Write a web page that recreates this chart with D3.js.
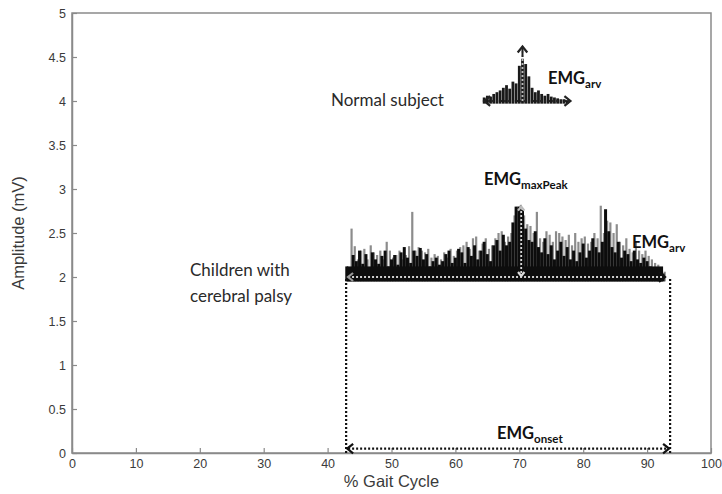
<!DOCTYPE html>
<html><head><meta charset="utf-8">
<script src="https://cdn.jsdelivr.net/npm/d3@7"></script>
<style>body{margin:0;background:#fff}svg{display:block}</style></head>
<body><svg id="c" width="722" height="494"></svg>
<script>
const xTicks = [0,10,20,30,40,50,60,70,80,90,100];
const yTicks = [0,0.5,1,1.5,2,2.5,3,3.5,4,4.5,5];
const yTickLabels = ["0","0.5","1","1.5","2","2.5","3","3.5","4","4.5","5"];

// Children with cerebral palsy: EMG samples, 43 -> 92.5 % gait cycle, 0.5 % step
const cpStart = 43, cpStep = 0.5, cpBaseline = 1.95;
const cpBlack = [
 2.12,2.08, 2.25,2.18, 2.30,2.15, 2.26,2.10, 2.28,2.20,
 2.15,2.24, 2.30,2.12, 2.20,2.25, 2.14,2.28, 2.34,2.22,
 2.16,2.30, 2.24,2.33, 2.20,2.26, 2.12,2.18, 2.22,2.14,
 2.18,2.26, 2.30,2.16, 2.22,2.32, 2.28,2.16, 2.34,2.24,
 2.36,2.20, 2.30,2.40, 2.26,2.18, 2.36,2.42, 2.30,2.48,
 2.36,2.40, 2.62,2.80, 2.80,2.76, 2.55,2.42, 2.40,2.52,
 2.34,2.28, 2.44,2.26, 2.36,2.20, 2.30,2.40, 2.24,2.34,
 2.20,2.30, 2.18,2.28, 2.38,2.22, 2.30,2.44, 2.34,2.28,
 2.40,2.77, 2.52,2.34, 2.28,2.40, 2.22,2.30, 2.26,2.18,
 2.30,2.20, 2.16,2.22, 2.18,2.12, 2.10,2.08, 2.06,2.04
];
const cpGray = [
 2.00,2.55, 2.35,2.20, 2.30,2.32, 2.20,2.36, 2.28,2.25,
 2.30,2.20, 2.40,2.30, 2.22,2.25, 2.30,2.20, 2.25,2.35,
 2.74,2.30, 2.34,2.30, 2.28,2.32, 2.22,2.26, 2.24,2.20,
 2.28,2.22, 2.32,2.24, 2.30,2.34, 2.36,2.40, 2.32,2.44,
 2.46,2.30, 2.38,2.44, 2.32,2.36, 2.44,2.50, 2.52,2.40,
 2.46,2.50, 2.70,2.80, 2.82,2.70, 2.60,2.58, 2.50,2.74,
 2.44,2.40, 2.52,2.48, 2.40,2.52, 2.50,2.46, 2.42,2.48,
 2.36,2.50, 2.40,2.44, 2.46,2.38, 2.40,2.50, 2.44,2.81,
 2.50,2.64, 2.62,2.50, 2.60,2.40, 2.36,2.44, 2.32,2.28,
 2.40,2.30, 2.26,2.30, 2.24,2.20, 2.16,2.14, 2.10,2.06
];

// Normal subject: EMG samples, 64.5 -> 77.5 % gait cycle, 0.5 % step
const nsStart = 64.5, nsStep = 0.5, nsBaseline = 3.97;
const nsBlack = [4.04,4.06,4.05,4.08,4.10,4.12,4.15,4.18,4.14,4.22,4.20,4.40,4.48,4.42,4.28,4.15,4.10,4.12,4.08,4.06,4.08,4.05,4.04,4.03,4.02,4.02,4.01];

// annotation geometry (data units)
const onsetRange = [42.9, 93.6];
const cpArvRange = [43.2, 92.8];
const cpPeakX = 70.3, cpPeak = 2.8, cpArvLevel = 2.0;
const nsArvRange = [64.5, 78.0];
const nsPeakX = 70.5, nsPeak = 4.62, nsArvLevel = 4.0;

const svg = d3.select("#c");
const x = d3.scaleLinear().domain([0,100]).range([72,711]);
const y = d3.scaleLinear().domain([0,5]).range([453,13]);
const axisCol = "#8a8a8a", textCol = "#3a3a3a";
const annFont = "Lato, 'Open Sans', sans-serif";

// frame
svg.append("rect").attr("x",x(0)).attr("y",y(5)).attr("width",x(100)-x(0)).attr("height",y(0)-y(5))
  .attr("fill","none").attr("stroke",axisCol).attr("stroke-width",1.5);

const xAxis = svg.append("g").attr("transform",`translate(0,${y(0)})`)
  .call(d3.axisBottom(x).tickValues(xTicks).tickSizeInner(-5).tickSizeOuter(0).tickPadding(4));
const yAxis = svg.append("g").attr("transform",`translate(${x(0)},0)`)
  .call(d3.axisLeft(y).tickValues(yTicks).tickFormat((d,i)=>yTickLabels[i]).tickSizeInner(-5).tickSizeOuter(0).tickPadding(6));
[xAxis,yAxis].forEach(g=>{
  g.select(".domain").attr("stroke",axisCol).attr("stroke-width",1.5);
  g.selectAll(".tick line").attr("stroke",axisCol).attr("stroke-width",1.2);
  g.selectAll(".tick text").attr("fill",textCol).style("font-family","Arial, 'Liberation Sans', sans-serif").style("font-size","12.5px");
});
yAxis.selectAll(".tick text").attr("dy","0.35em");
xAxis.selectAll(".tick text").attr("y",6);

svg.append("text").attr("transform",`translate(24,${(y(0)+y(5))/2}) rotate(-90)`)
  .attr("text-anchor","middle").attr("fill",textCol)
  .style("font-family","Arial, 'Liberation Sans', sans-serif").style("font-size","16.5px").text("Amplitude (mV)");
svg.append("text").attr("x",x(50)).attr("y",487).attr("text-anchor","middle").attr("fill",textCol)
  .style("font-family","Arial, 'Liberation Sans', sans-serif").style("font-size","16.5px").text("% Gait Cycle");

// EMG bursts
function bars(vals, start, step, base, w, fill, off){
  svg.append("g").selectAll("rect").data(vals).join("rect")
    .attr("x",(d,i)=>x(start+i*step+off)-w/2)
    .attr("width",w)
    .attr("y",d=>y(d))
    .attr("height",d=>y(base)-y(d))
    .attr("fill",fill);
}
bars(cpGray, cpStart, cpStep, cpBaseline, 2.2, "#8c8c8c", 0.25);
bars(cpBlack, cpStart, cpStep, cpBaseline, 3.0, "#0d0d0d", 0);
// dense base band
svg.append("rect").attr("x",x(cpStart)).attr("width",x(cpStart+cpStep*(cpBlack.length-1))-x(cpStart))
  .attr("y",y(2.12)).attr("height",y(cpBaseline)-y(2.12)).attr("fill","#0d0d0d");
bars(nsBlack, nsStart, nsStep, nsBaseline, 2.8, "#1a1a1a", 0);

// arrow helpers
function dotted(x1,y1,x2,y2,col,w){
  svg.append("line").attr("x1",x1).attr("y1",y1).attr("x2",x2).attr("y2",y2)
    .attr("stroke",col).attr("stroke-width",w||2.2).attr("stroke-dasharray","2,2");
}
function head(px,py,dir,col,s){
  s = s||6;
  let p;
  if(dir==="left") p=[[px+s,py-s*0.8],[px,py],[px+s,py+s*0.8]];
  if(dir==="right") p=[[px-s,py-s*0.8],[px,py],[px-s,py+s*0.8]];
  if(dir==="up") p=[[px-s*0.8,py+s],[px,py],[px+s*0.8,py+s]];
  if(dir==="down") p=[[px-s*0.8,py-s],[px,py],[px+s*0.8,py-s]];
  svg.append("path").attr("d",d3.line()(p)).attr("fill","none").attr("stroke",col).attr("stroke-width",2.2);
}

// onset box
dotted(x(onsetRange[0]),y(0),x(onsetRange[0]),y(cpArvLevel),"#111");
dotted(x(onsetRange[1]),y(0),x(onsetRange[1]),y(cpArvLevel),"#111");
const onY = y(0.05);
dotted(x(onsetRange[0])+2,onY,x(onsetRange[1])-2,onY,"#111");
head(x(onsetRange[0])+1,onY,"left","#111",6);
head(x(onsetRange[1])-1,onY,"right","#111",6);

// CP arv & peak arrows (light dots over dark burst)
const cpY = y(cpArvLevel);
dotted(x(cpArvRange[0]),cpY,x(cpArvRange[1]),cpY,"#cfcfcf",1.8);
head(x(cpArvRange[0]),cpY,"left","#9a9a9a",5);
head(x(cpArvRange[1]),cpY,"right","#111",6);
dotted(x(cpPeakX),y(cpArvLevel),x(cpPeakX),y(cpPeak),"#d8d8d8",1.8);
head(x(cpPeakX),y(cpPeak),"up","#bbb",4);
head(x(cpPeakX),y(cpArvLevel)-1,"down","#ddd",4);

// normal subject arrows
const nsY = y(nsArvLevel);
dotted(x(nsArvRange[0]),nsY,x(nsArvRange[1]),nsY,"#222",2.2);
head(x(nsArvRange[0]),nsY,"left","#222",6);
head(x(nsArvRange[1]),nsY,"right","#222",6);
dotted(x(nsPeakX),nsY,x(nsPeakX),y(nsPeak),"#bbb",1.8);
svg.append("line").attr("x1",x(nsPeakX)).attr("x2",x(nsPeakX)).attr("y1",y(4.5)).attr("y2",y(nsPeak)).attr("stroke","#222").attr("stroke-width",2);
head(x(nsPeakX),y(nsPeak),"up","#222",6);

// annotations
function label(px,py,main,sub,size){
  const t = svg.append("text").attr("x",px).attr("y",py).attr("fill","#111")
    .style("font-family",annFont).style("font-weight","bold").style("font-size",size+"px");
  t.append("tspan").text(main);
  t.append("tspan").attr("dy",4).style("font-size",(size*0.7)+"px").text(sub);
}
label(548,84,"EMG","arv",16.5);
label(484,185,"EMG","maxPeak",16.5);
label(632,248,"EMG","arv",16.5);
label(497,439,"EMG","onset",16.5);

function plain(px,py,txt){
  svg.append("text").attr("x",px).attr("y",py).attr("fill","#2a2a2a")
    .style("font-family",annFont).style("font-size","17px").text(txt);
}
plain(331,106,"Normal subject");
plain(190,276,"Children with");
plain(190,302,"cerebral palsy");
</script></body></html>
